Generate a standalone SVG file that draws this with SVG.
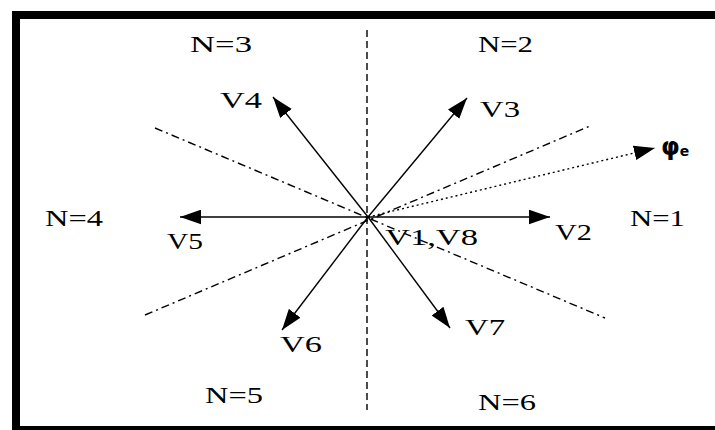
<svg xmlns="http://www.w3.org/2000/svg" width="715" height="430" viewBox="0 0 715 430">
<defs>
<marker id="ah" viewBox="0 0 20 14" refX="20" refY="7" markerWidth="21" markerHeight="15" markerUnits="userSpaceOnUse" orient="auto">
<path d="M0,0 L20,7 L0,14 z" fill="#000"/>
</marker>
</defs>
<style>
.lbl{font-family:"Liberation Serif","Times New Roman",serif;font-size:24px;fill:#000}
.vec{stroke:#000;stroke-width:1.4;fill:none;marker-end:url(#ah)}
.dd{stroke:#000;stroke-width:1.4;fill:none;stroke-dasharray:8 4 2 4}
.vd{stroke:#000;stroke-width:1.4;fill:none;stroke-dasharray:7 4}
.dot{stroke:#000;stroke-width:1.4;fill:none;stroke-dasharray:2 3}
</style>
<rect x="0" y="0" width="715" height="430" fill="#fff"/>
<rect id="frame" x="16" y="15" width="720" height="415" fill="none" stroke="#000" stroke-width="8"/>
<g id="connectors">
<line class="vd" x1="367" y1="30" x2="367" y2="410"/>
<line class="dd" x1="155" y1="128" x2="605" y2="318"/>
<line class="dd" x1="145" y1="315" x2="590" y2="126"/>
<line class="dot" x1="368" y1="217" x2="655" y2="148" marker-end="url(#ah)"/>
<line class="vec" x1="368" y1="217" x2="550" y2="217"/>
<line class="vec" x1="368" y1="217" x2="180" y2="217"/>
<line class="vec" x1="368" y1="217" x2="273" y2="97"/>
<line class="vec" x1="368" y1="217" x2="467" y2="98"/>
<line class="vec" x1="368" y1="217" x2="282" y2="330"/>
<line class="vec" x1="368" y1="217" x2="450" y2="328"/>
</g>
<g id="sectors">
<text id="n3" class="lbl" x="190" y="52" textLength="62" lengthAdjust="spacingAndGlyphs">N=3</text>
<text id="n2" class="lbl" x="478" y="52" textLength="55" lengthAdjust="spacingAndGlyphs">N=2</text>
<text id="n4" class="lbl" x="45" y="226" textLength="58" lengthAdjust="spacingAndGlyphs">N=4</text>
<text id="n1" class="lbl" x="630" y="226" textLength="55" lengthAdjust="spacingAndGlyphs">N=1</text>
<text id="n5" class="lbl" x="205" y="403" textLength="58" lengthAdjust="spacingAndGlyphs">N=5</text>
<text id="n6" class="lbl" x="478" y="410" textLength="58" lengthAdjust="spacingAndGlyphs">N=6</text>
</g>
<g id="vectors">
<text id="v4" class="lbl" x="220" y="108" textLength="42" lengthAdjust="spacingAndGlyphs">V4</text>
<text id="v3" class="lbl" x="480" y="117" textLength="40" lengthAdjust="spacingAndGlyphs">V3</text>
<text id="v5" class="lbl" x="167" y="249" textLength="36" lengthAdjust="spacingAndGlyphs">V5</text>
<text id="v2" class="lbl" x="555" y="240" textLength="37" lengthAdjust="spacingAndGlyphs">V2</text>
<text id="v6" class="lbl" x="280" y="352" textLength="42" lengthAdjust="spacingAndGlyphs">V6</text>
<text id="v7" class="lbl" x="465" y="335" textLength="40" lengthAdjust="spacingAndGlyphs">V7</text>
<text id="v18" class="lbl" x="385" y="245" textLength="93" lengthAdjust="spacingAndGlyphs">V1,V8</text>
<text id="phi" x="661" y="155" style="font-family:'DejaVu Sans',sans-serif;font-size:24px;font-weight:bold;fill:#000">φ<tspan dy="1" style="font-size:14px">e</tspan></text>
</g>
</svg>
